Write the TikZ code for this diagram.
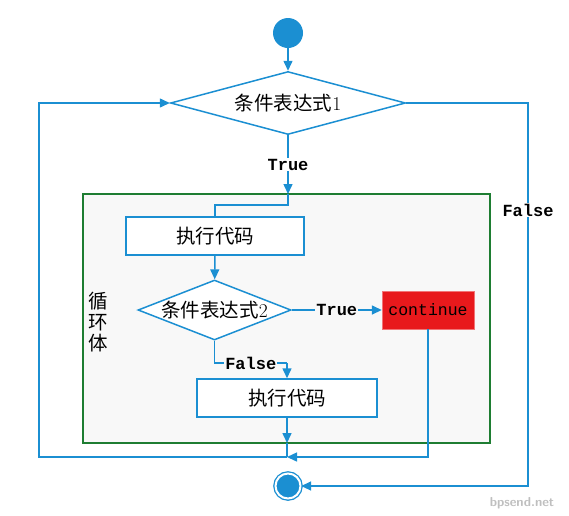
\documentclass[tikz,border=0pt]{standalone}
\usepackage{fontspec}
\usetikzlibrary{shapes.geometric,arrows.meta}
\newfontfamily\cjk{Noto Sans CJK SC}
\newfontfamily\codefont{Liberation Mono}
\definecolor{flowblue}{HTML}{1B8FD2}
\definecolor{stopred}{HTML}{E8191C}
\definecolor{bodygreen}{HTML}{1E7D32}
\definecolor{bodygray}{HTML}{F8F8F8}

\begin{document}
\begin{tikzpicture}[x=1pt,y=-1pt,
  flow/.style={draw=flowblue,line width=1.5pt},
  arr/.style={flow,-{Triangle[length=10pt,width=9pt]}},
  test/.style={diamond,draw=flowblue,line width=1.5pt,fill=white,inner sep=0pt,font=\fontsize{19.5}{22}\selectfont},
  task/.style={rectangle,draw=flowblue,line width=1.5pt,fill=white,font=\cjk\fontsize{19.5}{22}\selectfont},
  lbl/.style={font=\codefont\bfseries\fontsize{17}{19}\selectfont,inner sep=1pt}]
\useasboundingbox (0,0) rectangle (569,515);
\node[rectangle,draw=bodygreen,line width=2.5pt,fill=bodygray,minimum width=407pt,minimum height=249pt] (body) at (286.5,318.5) {};
\node[circle,fill=flowblue,minimum size=30pt,inner sep=0pt] (start) at (288,33) {};
\node[test,aspect=3.73,minimum width=235pt,minimum height=63pt] (cond1) at (288,103) {{\cjk 条件表达式}1};
\node[task,minimum width=178pt,minimum height=38pt] (code1) at (215,236) {执行代码};
\node[test,aspect=2.55,minimum width=153pt,minimum height=60pt] (cond2) at (214.5,310) {{\cjk 条件表达式}2};
\node[rectangle,fill=stopred,draw=stopred!60,minimum width=92pt,minimum height=38pt,font=\codefont\fontsize{16.5}{18}\selectfont] (cont) at (428,310) {continue};
\node[task,minimum width=180pt,minimum height=38pt] (code2) at (287,398) {执行代码};
\node[circle,draw=flowblue,fill=flowblue,double=white,double distance=2pt,line width=1.3pt,minimum size=25pt] (end) at (288,486) {};
\node[font=\cjk\fontsize{19.5}{21}\selectfont,align=center,inner sep=0pt] (name) at (98,322) {循\\环\\体};
\node[font=\sffamily\bfseries\fontsize{13}{14}\selectfont,text=black!25] (mark) at (522,503) {bpsend.net};
\coordinate (in) at (288,194);
\coordinate (split) at (287,363);
\coordinate (out) at (287,443);
\coordinate (merge) at (287,457);
\coordinate (back) at (39,457);
\coordinate (exit) at (528,103);
\path[arr] (start) -- (cond1);
\path[arr] (cond1) -- node[lbl,fill=white] {True} (in);
\path[flow] (in) -- ++(0,11) -| (code1);
\path[arr] (code1) -- (cond2);
\path[arr] (cond2) -- node[lbl,fill=bodygray] {True} (cont);
\path[flow] (cond2) |- node[lbl,fill=bodygray,pos=0.75] {False} (split);
\path[arr] (split) -- (code2);
\path[arr] (code2) -- (out);
\path[flow] (out) -- (merge);
\path[arr] (cont) |- (merge);
\path[arr] (merge) -- (back) |- (cond1);
\path[arr] (cond1) -- (exit) |- node[lbl,fill=white,pos=0.14] {False} (end);
\end{tikzpicture}
\end{document}
